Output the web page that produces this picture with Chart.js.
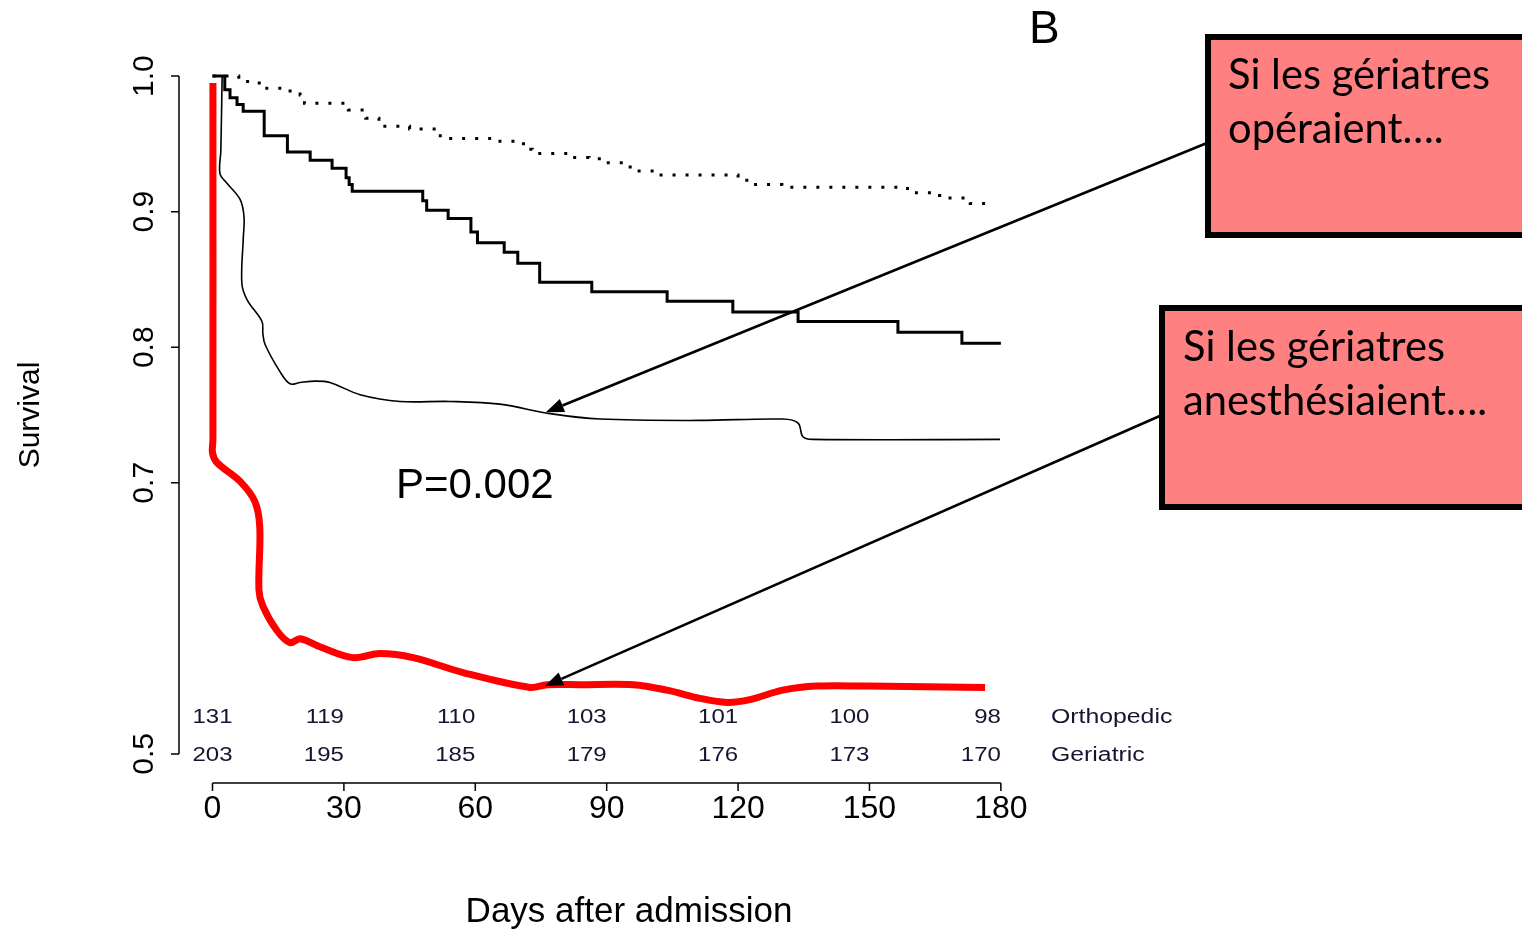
<!DOCTYPE html>
<html><head><meta charset="utf-8">
<script src="https://cdn.jsdelivr.net/npm/chart.js@4.4.1/dist/chart.umd.min.js"></script>
<style>html,body{margin:0;padding:0;background:#fff;overflow:hidden}canvas{display:block}</style>
</head><body>
<canvas id="c" width="1522" height="929"></canvas>
<script>
// ---- data ----
const xTicks = [0, 30, 60, 90, 120, 150, 180];
const yTicks = [1.0, 0.9, 0.8, 0.7, 0.5];
const yTickLabels = ['1.0', '0.9', '0.8', '0.7', '0.5'];

const riskDays = [0, 30, 60, 90, 120, 150, 180];
const riskOrtho = [131, 119, 110, 103, 101, 100, 98];
const riskGeri = [203, 195, 185, 179, 176, 173, 170];
const riskRowLabels = ['Orthopedic', 'Geriatric'];

// Geriatric (dotted KM)
const geriDays = [0, 6, 9, 12, 17, 20, 21, 31, 35, 38, 45, 52, 65, 71, 73, 81, 86, 90, 95, 97, 102, 120, 122, 130, 158, 160, 166, 168, 173, 177];
const geriSurv = [1.000, 0.996, 0.995, 0.991, 0.989, 0.986, 0.980, 0.975, 0.969, 0.963, 0.961, 0.954, 0.952, 0.946, 0.943, 0.940, 0.939, 0.936, 0.933, 0.930, 0.927, 0.925, 0.920, 0.918, 0.917, 0.914, 0.912, 0.910, 0.906, 0.906];

// Orthopedic (solid KM)
const orthoDays = [0, 2.8, 4.0, 5.6, 7.0, 11.8, 17.1, 22.3, 27.3, 30.5, 31.2, 31.9, 48.0, 48.9, 53.8, 59.0, 60.5, 66.6, 69.7, 74.7, 86.6, 103.8, 118.8, 133.7, 156.5, 171.1, 180];
const orthoSurv = [1.000, 0.990, 0.984, 0.979, 0.974, 0.956, 0.944, 0.938, 0.932, 0.925, 0.920, 0.915, 0.908, 0.901, 0.895, 0.885, 0.877, 0.870, 0.862, 0.848, 0.841, 0.834, 0.826, 0.819, 0.811, 0.803, 0.803];

// hand-drawn thin curve ("Si les gériatres opéraient")
const operDays = [2.2, 1.9, 1.7, 3.3, 6.3, 7.2, 7.0, 6.7, 7.9, 11.3, 11.5, 12.0, 15.4, 17.7, 20.0, 23.4, 26.8, 33.7, 42.8, 54.2, 65.6, 77.1, 88.5, 111.3, 130.2, 133.7, 134.8, 137.1, 179.8];
const operSurv = [0.9995, 0.945, 0.928, 0.921, 0.909, 0.896, 0.879, 0.847, 0.835, 0.819, 0.810, 0.802, 0.782, 0.773, 0.774, 0.775, 0.774, 0.765, 0.760, 0.760, 0.758, 0.751, 0.747, 0.746, 0.747, 0.744, 0.734, 0.732, 0.732];

// hand-drawn red curve ("Si les gériatres anesthésiaient")
const anesDays = [0.1, 0.1, 0.0, 1.0, 6.3, 9.7, 10.8, 10.6, 11.5, 14.7, 17.7, 20.0, 24.5, 32.1, 38.2, 45.8, 57.2, 72.5, 76.4, 83.9, 96.0, 103.8, 111.3, 117.5, 122.7, 130.2, 138.0, 149.4, 176.4];
const anesSurv = [0.995, 0.732, 0.722, 0.715, 0.701, 0.686, 0.667, 0.621, 0.609, 0.591, 0.582, 0.585, 0.579, 0.571, 0.574, 0.571, 0.560, 0.549, 0.551, 0.551, 0.551, 0.547, 0.541, 0.538, 0.540, 0.547, 0.550, 0.550, 0.549];

const pText = 'P=0.002';
const panelLabel = 'B';
const boxTexts = [['Si les gériatres', 'opéraient….'], ['Si les gériatres', 'anesthésiaient….']];
const arrowTips = [[76.1, 0.752], [75.9, 0.550]];

const pts = (xs, ys) => xs.map((v, i) => ({x: v, y: ys[i]}));
const SANS = '"Liberation Sans", Arial, sans-serif';

function scaledText(ctx, txt, px, py, align, sx) {
  ctx.save(); ctx.translate(px, py); ctx.scale(sx, 1);
  ctx.textAlign = align; ctx.fillText(txt, 0, 0); ctx.restore();
}

const overlay = {
  id: 'overlay',
  afterDatasetsDraw(chart) {
    const {ctx, chartArea: ca, scales: {x, y}} = chart;
    ctx.save();
    // axes
    ctx.strokeStyle = '#000'; ctx.lineWidth = 1.5;
    ctx.beginPath();
    const ax = ca.left;
    ctx.moveTo(ax, y.getPixelForValue(yTicks[0]));
    ctx.lineTo(ax, y.getPixelForValue(yTicks[yTicks.length - 1]));
    yTicks.forEach(v => { const p = y.getPixelForValue(v); ctx.moveTo(ax, p); ctx.lineTo(ax - 8, p); });
    const ay = ca.bottom + 2;
    ctx.moveTo(x.getPixelForValue(xTicks[0]), ay);
    ctx.lineTo(x.getPixelForValue(xTicks[xTicks.length - 1]), ay);
    xTicks.forEach(v => { const p = x.getPixelForValue(v); ctx.moveTo(p, ay); ctx.lineTo(p, ay + 8); });
    ctx.stroke();

    ctx.fillStyle = '#000';
    // x tick labels
    ctx.font = '32px ' + SANS; ctx.textAlign = 'center'; ctx.textBaseline = 'middle';
    xTicks.forEach(v => ctx.fillText(String(v), x.getPixelForValue(v), 809));
    // y tick labels rotated
    ctx.font = '30px ' + SANS;
    yTicks.forEach((v, i) => {
      ctx.save(); ctx.translate(145, y.getPixelForValue(v)); ctx.rotate(-Math.PI / 2);
      ctx.fillText(yTickLabels[i], 0, 0); ctx.restore();
    });
    // axis titles
    ctx.save(); ctx.translate(31, 415); ctx.rotate(-Math.PI / 2);
    ctx.font = '30px ' + SANS; ctx.fillText('Survival', 0, 0); ctx.restore();
    ctx.font = '35px ' + SANS; ctx.fillText('Days after admission', 629, 912);

    // risk table
    ctx.fillStyle = '#151530';
    ctx.font = '20px ' + SANS;
    [riskOrtho, riskGeri].forEach((row, r) => {
      const ty = 717 + r * 38;
      row.forEach((n, i) => {
        const px = x.getPixelForValue(riskDays[i]);
        scaledText(ctx, String(n), px, ty, i === 0 ? 'center' : 'right', 1.2);
      });
      scaledText(ctx, riskRowLabels[r], 1051, ty, 'left', 1.24);
    });

    // P value and panel label
    ctx.fillStyle = '#000';
    ctx.textBaseline = 'alphabetic'; ctx.textAlign = 'left';
    ctx.font = '42px ' + SANS; ctx.fillText(pText, 396, 498);
    ctx.font = '46px ' + SANS; ctx.fillText(panelLabel, 1029, 43);

    // arrows
    const starts = [[1207, 143], [1162, 415]];
    ctx.lineWidth = 2.5; ctx.strokeStyle = '#000';
    arrowTips.forEach((t, i) => {
      const tx = x.getPixelForValue(t[0]), ty = y.getPixelForValue(t[1]);
      const [sx, sy] = starts[i];
      const ang = Math.atan2(ty - sy, tx - sx);
      const L = 18, W = 7;
      const bx = tx - L * Math.cos(ang), by = ty - L * Math.sin(ang);
      ctx.beginPath(); ctx.moveTo(sx, sy); ctx.lineTo(bx, by); ctx.stroke();
      ctx.beginPath();
      ctx.moveTo(tx, ty);
      ctx.lineTo(bx + W * Math.sin(ang), by - W * Math.cos(ang));
      ctx.lineTo(bx - W * Math.sin(ang), by + W * Math.cos(ang));
      ctx.closePath(); ctx.fill();
    });

    // boxes
    const boxes = [[1208, 37, 340, 198, 1228, 89], [1162, 308, 380, 199, 1183, 361]];
    boxes.forEach((b, i) => {
      ctx.fillStyle = '#FF8080';
      ctx.fillRect(b[0], b[1], b[2], b[3]);
      ctx.lineWidth = 6; ctx.strokeStyle = '#000';
      ctx.strokeRect(b[0], b[1], b[2], b[3]);
      ctx.fillStyle = '#000';
      ctx.font = '40px Lato, "Open Sans", sans-serif';
      const w = ctx.measureText('Si les gériatres').width;
      const fs = 40 * 262 / w;
      ctx.font = fs.toFixed(1) + 'px Lato, "Open Sans", sans-serif';
      ctx.textAlign = 'left'; ctx.textBaseline = 'alphabetic';
      boxTexts[i].forEach((line, k) => ctx.fillText(line, b[4], b[5] + k * 54));
    });
    ctx.restore();
  }
};

new Chart(document.getElementById('c'), {
  type: 'scatter',
  data: {
    datasets: [
      {label: 'Anesthésiaient', data: pts(anesDays, anesSurv), showLine: true, borderColor: '#FF0000', borderWidth: 7, pointRadius: 0, tension: 0.35, borderCapStyle: 'butt', borderJoinStyle: 'round', clip: false},
      {label: 'Opéraient', data: pts(operDays, operSurv), showLine: true, borderColor: '#000', borderWidth: 1.6, pointRadius: 0, tension: 0.35, clip: false},
      {label: 'Orthopedic', data: pts(orthoDays, orthoSurv), showLine: true, stepped: true, borderColor: '#000', borderWidth: 3, pointRadius: 0, clip: false},
      {label: 'Geriatric', data: pts(geriDays, geriSurv), showLine: true, stepped: true, borderColor: '#000', borderWidth: 3, borderDash: [3, 10], pointRadius: 0, clip: false}
    ]
  },
  options: {
    responsive: false, animation: false, devicePixelRatio: 1,
    layout: {padding: {left: 179, right: 489.6, top: 49, bottom: 148}},
    plugins: {legend: {display: false}, tooltip: {enabled: false}},
    scales: {
      x: {type: 'linear', display: false, min: -7.65, max: 187.2},
      y: {type: 'linear', display: false, min: 0.48, max: 1.02}
    }
  },
  plugins: [overlay]
});
</script>
</body></html>
